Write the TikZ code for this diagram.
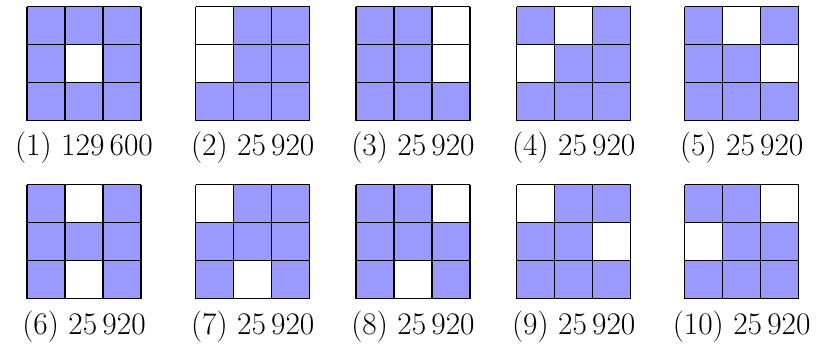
\documentclass[tikz,border=0pt]{standalone}
\usepackage{fontspec}
\usepackage{tikz}

\begin{document}
\begin{tikzpicture}[
    board/.style={fill=blue!40},
    hole/.style={fill=white},
    gridline/.style={line width=0.8pt, black},
    lab/.style={font=\fontsize{23.5}{28}\selectfont, inner sep=0pt},
  ]
  \useasboundingbox (0,0) rectangle (21.474,9.132);
  % number / left / bottom / white cells (column/row, row 0 on top) / count
  \foreach \n/\gx/\gy/\holes/\val in {
      1/0.711/5.96/{1/1}/129\,600,
      2/5.150/5.96/{0/0,0/1}/25\,920,
      3/9.368/5.96/{2/0,2/1}/25\,920,
      4/13.597/5.96/{1/0,0/1}/25\,920,
      5/18.018/5.96/{1/0,2/1}/25\,920,
      6/0.711/1.265/{1/0,1/2}/25\,920,
      7/5.150/1.265/{0/0,1/2}/25\,920,
      8/9.368/1.265/{2/0,1/2}/25\,920,
      9/13.597/1.265/{0/0,2/1}/25\,920,
      10/18.018/1.265/{2/0,0/1}/25\,920}
  {
    \begin{scope}[shift={(\gx,\gy)}]
      \fill[board] (0,0) rectangle (3,3);
      \foreach \c/\r in \holes
        \fill[hole] (\c,2-\r) rectangle ++(1,1);
      \draw[gridline] (0,0) grid (3,3);
      \node[lab] (lab\n) at (1.5,-0.72) {(\n)\ \val};
    \end{scope}
  }
\end{tikzpicture}
\end{document}
